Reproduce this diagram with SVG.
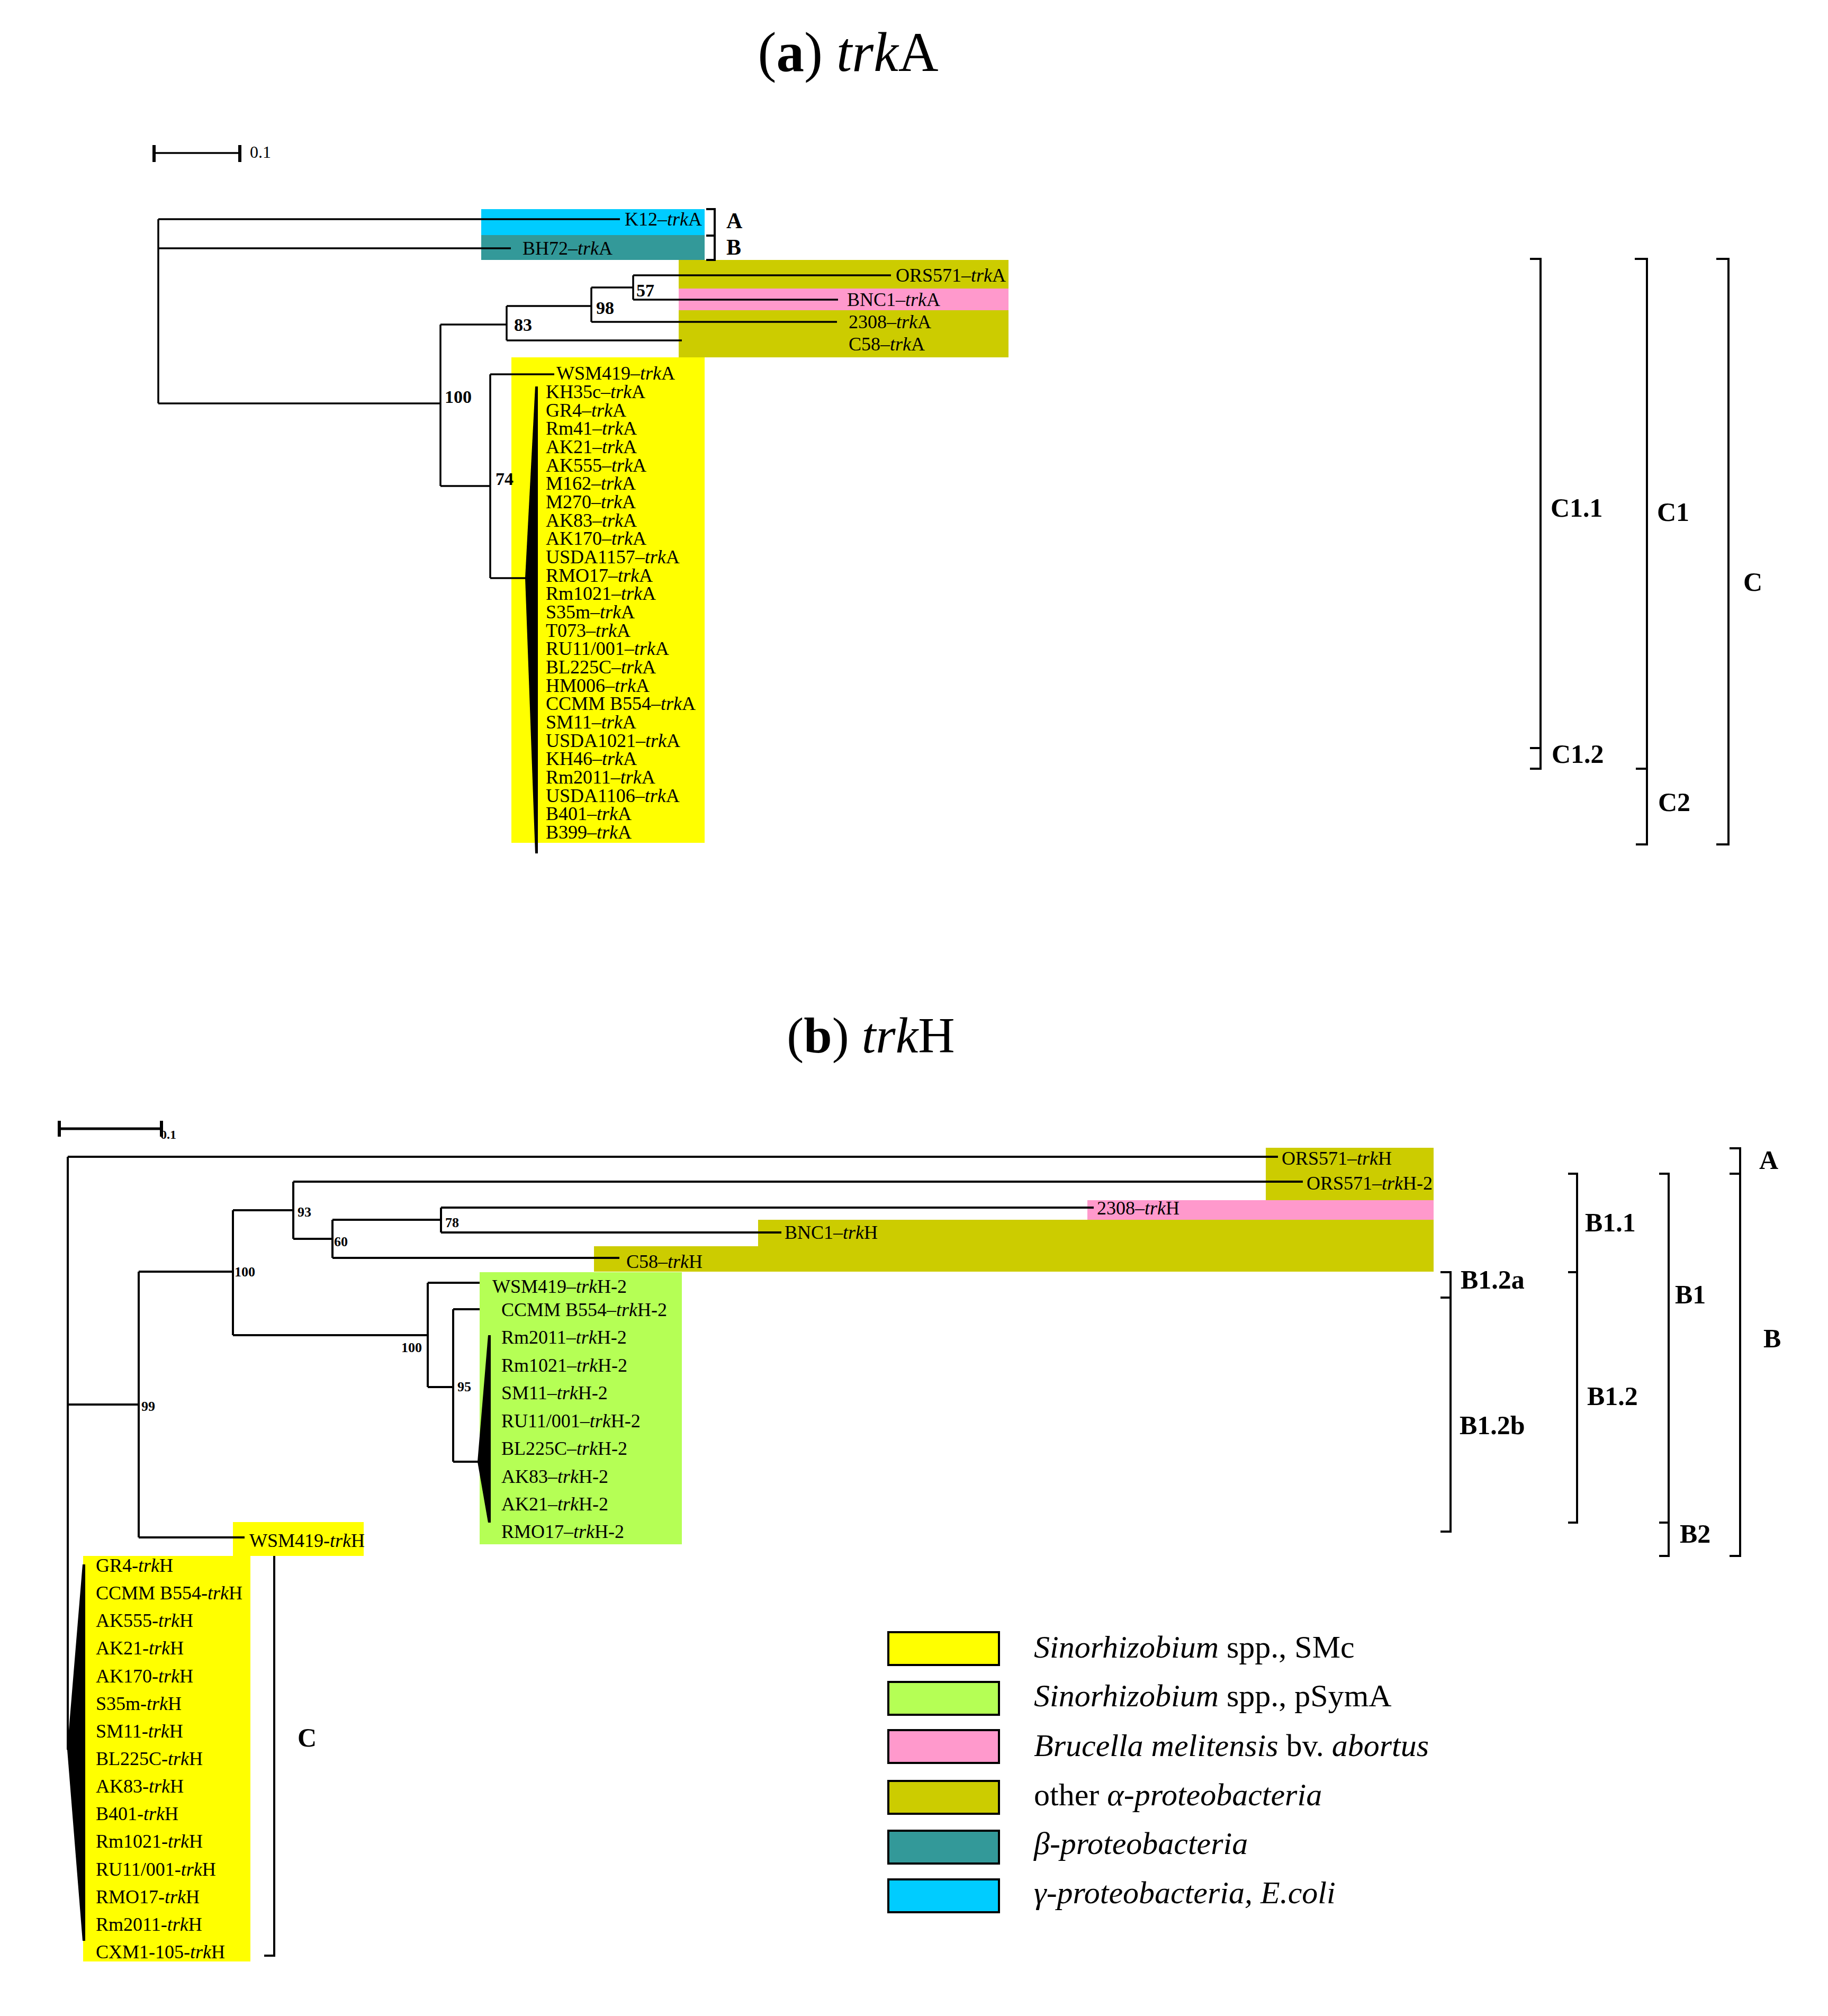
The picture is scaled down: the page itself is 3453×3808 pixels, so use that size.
<svg xmlns="http://www.w3.org/2000/svg" width="3453" height="3808" viewBox="0 0 3453 3808">
<style>
text{font-family:"Liberation Serif","Times New Roman",serif;fill:#000}
.t{font-size:36px}
.i{font-style:italic}
.b{font-weight:bold}
.bs{font-weight:bold;font-size:34px}
.bs2{font-weight:bold;font-size:26px}
.cl{font-weight:bold;font-size:50px}
.ttl{font-size:105px}
.lg{font-size:60px}
.e{stroke:#000;stroke-width:3.5;fill:none}
.e2{stroke:#000;stroke-width:4;fill:none}
.br{stroke:#000;stroke-width:4;fill:none}
.yel{fill:#FFFF00}.grn{fill:#B5FF55}.pnk{fill:#FF99CC}.olv{fill:#CCCC00}.tea{fill:#339999}.cya{fill:#00CCFF}
.lbox{stroke:#000;stroke-width:4}
</style>
<rect width="3453" height="3808" fill="#fff"/>

<!-- ===== (a) trkA ===== -->
<g id="title-a"><text class="ttl" x="1602" y="134" text-anchor="middle">(<tspan class="b">a</tspan>) <tspan class="i">trk</tspan>A</text></g>
<g id="scale-a">
<path class="e" d="M291,289H453"/><path d="M291,274V306M453,274V306" stroke="#000" stroke-width="6"/>
<text x="472" y="298" style="font-size:32px">0.1</text>
</g>

<g id="a-boxes">
<rect class="cya" x="909" y="395" width="422" height="49"/>
<rect class="tea" x="909" y="444" width="422" height="47"/>
<rect class="olv" x="1282" y="491" width="623" height="184"/>
<rect class="pnk" x="1282" y="545" width="623" height="41"/>
<rect class="yel" x="966" y="675" width="365" height="917"/>
</g>

<g id="a-connectors">
<path class="e" d="M299,414V762M299,414H1171M299,469H965M299,762H832M832,613V918M832,613H957M957,578V643M957,578H1117M1117,543V608M1117,543H1196M1196,520V566M1196,520H1683M1196,566H1583M1117,608H1581M957,643H1288M832,918H926M926,707V1092M926,707H1047M926,1092H993"/>
<polygon points="992,1092 1011,730 1016,730 1016,1612 1011,1612" fill="#000"/>
</g>

<g id="a-bootstrap">
<text class="bs" x="1202" y="560">57</text>
<text class="bs" x="1126" y="593">98</text>
<text class="bs" x="971" y="625">83</text>
<text class="bs" x="840" y="761">100</text>
<text class="bs" x="936" y="916">74</text>
</g>

<g id="a-leaf-K12"><text class="t" x="1180" y="426">K12–<tspan class="i">trk</tspan>A</text></g>
<g id="a-leaf-BH72"><text class="t" x="987" y="481">BH72–<tspan class="i">trk</tspan>A</text></g>
<g id="a-leaf-ORS571"><text class="t" x="1692" y="532">ORS571–<tspan class="i">trk</tspan>A</text></g>
<g id="a-leaf-BNC1"><text class="t" x="1600" y="578">BNC1–<tspan class="i">trk</tspan>A</text></g>
<g id="a-leaf-2308"><text class="t" x="1603" y="620">2308–<tspan class="i">trk</tspan>A</text></g>
<g id="a-leaf-C58"><text class="t" x="1603" y="662">C58–<tspan class="i">trk</tspan>A</text></g>
<g id="a-leaf-WSM419"><text class="t" x="1051" y="717">WSM419–<tspan class="i">trk</tspan>A</text></g>
<g id="a-leaf-list" class="t">
<text x="1031" y="752">KH35c–<tspan class="i">trk</tspan>A</text>
<text x="1031" y="787">GR4–<tspan class="i">trk</tspan>A</text>
<text x="1031" y="821">Rm41–<tspan class="i">trk</tspan>A</text>
<text x="1031" y="856">AK21–<tspan class="i">trk</tspan>A</text>
<text x="1031" y="891">AK555–<tspan class="i">trk</tspan>A</text>
<text x="1031" y="925">M162–<tspan class="i">trk</tspan>A</text>
<text x="1031" y="960">M270–<tspan class="i">trk</tspan>A</text>
<text x="1031" y="995">AK83–<tspan class="i">trk</tspan>A</text>
<text x="1031" y="1029">AK170–<tspan class="i">trk</tspan>A</text>
<text x="1031" y="1064">USDA1157–<tspan class="i">trk</tspan>A</text>
<text x="1031" y="1099">RMO17–<tspan class="i">trk</tspan>A</text>
<text x="1031" y="1133">Rm1021–<tspan class="i">trk</tspan>A</text>
<text x="1031" y="1168">S35m–<tspan class="i">trk</tspan>A</text>
<text x="1031" y="1203">T073–<tspan class="i">trk</tspan>A</text>
<text x="1031" y="1237">RU11/001–<tspan class="i">trk</tspan>A</text>
<text x="1031" y="1272">BL225C–<tspan class="i">trk</tspan>A</text>
<text x="1031" y="1307">HM006–<tspan class="i">trk</tspan>A</text>
<text x="1031" y="1341">CCMM B554–<tspan class="i">trk</tspan>A</text>
<text x="1031" y="1376">SM11–<tspan class="i">trk</tspan>A</text>
<text x="1031" y="1411">USDA1021–<tspan class="i">trk</tspan>A</text>
<text x="1031" y="1445">KH46–<tspan class="i">trk</tspan>A</text>
<text x="1031" y="1480">Rm2011–<tspan class="i">trk</tspan>A</text>
<text x="1031" y="1515">USDA1106–<tspan class="i">trk</tspan>A</text>
<text x="1031" y="1549">B401–<tspan class="i">trk</tspan>A</text>
<text x="1031" y="1584">B399–<tspan class="i">trk</tspan>A</text>
</g>

<g id="a-clusters">
<path class="br" d="M1334,395H1350V491H1334M1334,445H1350"/>
<text class="cl" x="1372" y="431" style="font-size:42px">A</text>
<text class="cl" x="1372" y="481" style="font-size:42px">B</text>
<path class="br" d="M2890,489H2910V1452H2890M2890,1413H2910"/>
<path class="br" d="M3088,489H3111V1595H3090M3090,1452H3111"/>
<path class="br" d="M3242,489H3265V1595H3242"/>
<text class="cl" x="2929" y="976">C1.1</text>
<text class="cl" x="2931" y="1441">C1.2</text>
<text class="cl" x="3130" y="984">C1</text>
<text class="cl" x="3132" y="1532">C2</text>
<text class="cl" x="3293" y="1116">C</text>
</g>

<!-- ===== (b) trkH ===== -->
<g id="title-b"><text class="ttl" x="1645" y="1988" text-anchor="middle" style="font-size:96px">(<tspan class="b">b</tspan>) <tspan class="i">trk</tspan>H</text></g>
<g id="scale-b">
<path d="M112,2132H305" stroke="#000" stroke-width="5"/><path d="M112,2117V2147M305,2117V2147" stroke="#000" stroke-width="6"/>
<text class="b" x="303" y="2151" style="font-size:24px">0.1</text>
</g>

<g id="b-boxes">
<rect class="olv" x="2391" y="2168" width="317" height="99"/>
<rect class="pnk" x="2054" y="2267" width="654" height="37"/>
<polygon class="olv" points="1432,2304 2708,2304 2708,2402 1122,2402 1122,2354 1432,2354"/>
<rect class="grn" x="906" y="2403" width="382" height="514"/>
<rect class="yel" x="440" y="2875" width="247" height="64"/>
<rect class="yel" x="157" y="2939" width="316" height="766"/>
</g>

<g id="b-connectors">
<path class="e2" d="M128,2185V3305M128,2185H2414M128,2653H262M262,2402V2904M262,2402H440M440,2286V2522M440,2286H554M554,2232V2340M554,2232H2461M554,2340H628M628,2304V2376M628,2304H833M833,2281V2328M833,2281H2066M833,2328H1476M628,2376H1170M440,2522H808M808,2423V2620M808,2423H906M808,2620H856M856,2473V2761M856,2473H906M856,2761H903M262,2904H462"/>
<polygon points="902,2761 922,2522 927,2522 927,2876 922,2876" fill="#000"/>
<polygon points="127,3305 156,2955 161,2955 161,3666 156,3666" fill="#000"/>
</g>

<g id="b-bootstrap">
<text class="bs2" x="562" y="2298">93</text>
<text class="bs2" x="631" y="2354">60</text>
<text class="bs2" x="841" y="2318">78</text>
<text class="bs2" x="443" y="2411">100</text>
<text class="bs2" x="267" y="2665">99</text>
<text class="bs2" x="758" y="2554">100</text>
<text class="bs2" x="864" y="2628">95</text>
</g>

<g id="b-leaf-ORS571"><text class="t" x="2421" y="2200">ORS571–<tspan class="i">trk</tspan>H</text></g>
<g id="b-leaf-ORS571-2"><text class="t" x="2468" y="2247">ORS571–<tspan class="i">trk</tspan>H-2</text></g>
<g id="b-leaf-2308"><text class="t" x="2072" y="2294">2308–<tspan class="i">trk</tspan>H</text></g>
<g id="b-leaf-BNC1"><text class="t" x="1482" y="2340">BNC1–<tspan class="i">trk</tspan>H</text></g>
<g id="b-leaf-C58"><text class="t" x="1183" y="2395">C58–<tspan class="i">trk</tspan>H</text></g>
<g id="b-leaf-WSM419-2"><text class="t" x="930" y="2442">WSM419–<tspan class="i">trk</tspan>H-2</text></g>
<g id="b-leaf-CCMM-2"><text class="t" x="947" y="2486">CCMM B554–<tspan class="i">trk</tspan>H-2</text></g>
<g id="b-leaf-psyma-list" class="t">
<text x="947" y="2538">Rm2011–<tspan class="i">trk</tspan>H-2</text>
<text x="947" y="2591">Rm1021–<tspan class="i">trk</tspan>H-2</text>
<text x="947" y="2643">SM11–<tspan class="i">trk</tspan>H-2</text>
<text x="947" y="2696">RU11/001–<tspan class="i">trk</tspan>H-2</text>
<text x="947" y="2748">BL225C–<tspan class="i">trk</tspan>H-2</text>
<text x="947" y="2801">AK83–<tspan class="i">trk</tspan>H-2</text>
<text x="947" y="2853">AK21–<tspan class="i">trk</tspan>H-2</text>
<text x="947" y="2905">RMO17–<tspan class="i">trk</tspan>H-2</text>
</g>
<g id="b-leaf-WSM419"><text class="t" x="471" y="2922">WSM419-<tspan class="i">trk</tspan>H</text></g>
<g id="b-leaf-smc-list" class="t">
<text x="181" y="2969">GR4-<tspan class="i">trk</tspan>H</text>
<text x="181" y="3021">CCMM B554-<tspan class="i">trk</tspan>H</text>
<text x="181" y="3073">AK555-<tspan class="i">trk</tspan>H</text>
<text x="181" y="3125">AK21-<tspan class="i">trk</tspan>H</text>
<text x="181" y="3178">AK170-<tspan class="i">trk</tspan>H</text>
<text x="181" y="3230">S35m-<tspan class="i">trk</tspan>H</text>
<text x="181" y="3282">SM11-<tspan class="i">trk</tspan>H</text>
<text x="181" y="3334">BL225C-<tspan class="i">trk</tspan>H</text>
<text x="181" y="3386">AK83-<tspan class="i">trk</tspan>H</text>
<text x="181" y="3438">B401-<tspan class="i">trk</tspan>H</text>
<text x="181" y="3490">Rm1021-<tspan class="i">trk</tspan>H</text>
<text x="181" y="3543">RU11/001-<tspan class="i">trk</tspan>H</text>
<text x="181" y="3595">RMO17-<tspan class="i">trk</tspan>H</text>
<text x="181" y="3647">Rm2011-<tspan class="i">trk</tspan>H</text>
<text x="181" y="3699">CXM1-105-<tspan class="i">trk</tspan>H</text>
</g>

<g id="b-clusters">
<path class="br" d="M2721,2403H2740V2893H2721M2721,2451H2740"/>
<path class="br" d="M2962,2217H2979V2876H2962M2962,2403H2979"/>
<path class="br" d="M3134,2217H3152V2939H3134M3134,2876H3152"/>
<path class="br" d="M3267,2169H3287V2939H3267M3267,2217H3287"/>
<path class="br" d="M518,2939V3694H499"/>
<text class="cl" x="2759" y="2434">B1.2a</text>
<text class="cl" x="2757" y="2709">B1.2b</text>
<text class="cl" x="2994" y="2326">B1.1</text>
<text class="cl" x="2998" y="2654">B1.2</text>
<text class="cl" x="3164" y="2462">B1</text>
<text class="cl" x="3173" y="2914">B2</text>
<text class="cl" x="3323" y="2208">A</text>
<text class="cl" x="3331" y="2545">B</text>
<text class="cl" x="562" y="3299">C</text>
</g>

<!-- ===== legend ===== -->
<g id="legend">
<rect class="yel lbox" x="1678" y="3083" width="209" height="62"/>
<rect class="grn lbox" x="1678" y="3177" width="209" height="62"/>
<rect class="pnk lbox" x="1678" y="3268" width="209" height="62"/>
<rect class="olv lbox" x="1678" y="3364" width="209" height="62"/>
<rect class="tea lbox" x="1678" y="3458" width="209" height="62"/>
<rect class="cya lbox" x="1678" y="3550" width="209" height="62"/>
<text class="lg" x="1953" y="3131"><tspan class="i">Sinorhizobium</tspan> spp., SMc</text>
<text class="lg" x="1953" y="3223"><tspan class="i">Sinorhizobium</tspan> spp., pSymA</text>
<text class="lg" x="1953" y="3317"><tspan class="i">Brucella melitensis</tspan> bv. <tspan class="i">abortus</tspan></text>
<text class="lg" x="1953" y="3410">other <tspan class="i">α-proteobacteria</tspan></text>
<text class="lg" x="1953" y="3502"><tspan class="i">β-proteobacteria</tspan></text>
<text class="lg" x="1953" y="3595"><tspan class="i">γ-proteobacteria, E.coli</tspan></text>
</g>
</svg>
